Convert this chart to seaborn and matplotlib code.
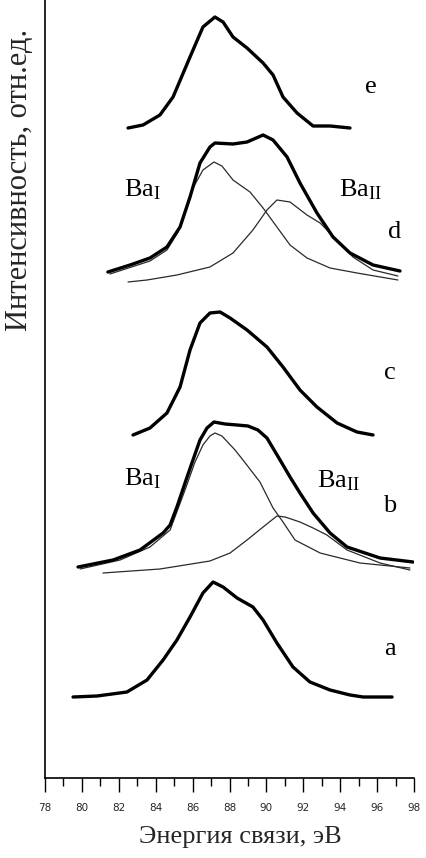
import matplotlib
matplotlib.use("Agg")
import matplotlib.pyplot as plt
import seaborn as sns

# ---- data (binding energy, eV ; intensity, arb. units) ----
e_x = [82.50, 83.31, 84.23, 84.94, 85.86, 86.56, 87.21, 87.65, 88.19, 88.95, 89.82, 90.36, 90.90, 91.66, 92.53, 93.45, 94.53]
e_y = [65.0, 65.3, 66.3, 68.1, 72.1, 75.1, 76.1, 75.6, 74.1, 73.0, 71.5, 70.3, 68.1, 66.5, 65.2, 65.2, 65.0]

d_x = [81.41, 82.61, 83.69, 84.61, 85.32, 85.86, 86.40, 86.94, 87.21, 88.19, 88.95, 89.82, 90.36, 91.12, 91.82, 92.74, 93.61, 94.53, 95.78, 97.24]
d_y = [50.6, 51.3, 52.0, 53.1, 55.1, 58.1, 61.5, 63.1, 63.5, 63.4, 63.6, 64.3, 63.8, 62.1, 59.5, 56.5, 54.1, 52.5, 51.3, 50.7]
d1_x = [81.52, 83.69, 84.61, 85.21, 85.70, 86.02, 86.56, 87.16, 87.59, 88.19, 89.11, 89.82, 90.57, 91.28, 92.20, 93.45, 94.91, 97.13]
d1_y = [50.4, 51.7, 52.8, 54.6, 57.3, 59.0, 60.8, 61.6, 61.2, 59.8, 58.6, 57.0, 55.1, 53.3, 52.0, 51.0, 50.5, 49.8]
d2_x = [82.50, 83.53, 85.15, 86.94, 88.19, 89.27, 90.03, 90.57, 91.28, 92.20, 92.91, 93.83, 94.69, 95.78, 97.13]
d2_y = [49.6, 49.8, 50.3, 51.1, 52.5, 54.8, 56.8, 57.8, 57.6, 56.3, 55.5, 53.8, 52.1, 50.8, 50.2]

c_x = [82.77, 83.69, 84.61, 85.32, 85.86, 86.40, 86.94, 87.49, 88.03, 88.95, 90.03, 90.90, 91.82, 92.74, 93.83, 94.91, 95.78]
c_y = [34.3, 35.0, 36.5, 39.1, 42.8, 45.5, 46.5, 46.6, 46.0, 44.8, 43.1, 41.1, 38.8, 37.1, 35.5, 34.6, 34.3]

b_x = [79.79, 81.69, 83.15, 84.40, 84.78, 85.15, 85.70, 86.02, 86.40, 86.78, 87.16, 87.76, 88.41, 89.00, 89.54, 90.03, 90.74, 91.28, 91.82, 92.53, 93.45, 94.37, 96.16, 97.95]
b_y = [21.1, 21.8, 22.8, 24.5, 25.3, 27.1, 30.1, 31.8, 33.8, 35.0, 35.6, 35.4, 35.3, 35.2, 34.8, 34.0, 31.8, 30.1, 28.5, 26.5, 24.5, 23.1, 22.0, 21.6]
b1_x = [79.90, 82.07, 83.69, 84.78, 85.59, 86.13, 86.56, 86.94, 87.21, 87.59, 88.30, 88.73, 89.65, 90.36, 90.90, 91.55, 92.91, 95.07, 97.78]
b1_y = [20.9, 21.8, 23.1, 24.8, 28.8, 31.6, 33.3, 34.2, 34.5, 34.2, 32.8, 31.8, 29.6, 27.0, 25.6, 23.8, 22.5, 21.5, 21.0]
b2_x = [81.14, 84.23, 86.94, 88.03, 88.95, 89.82, 90.57, 91.01, 91.82, 92.53, 93.28, 94.37, 96.16, 97.78]
b2_y = [20.5, 20.9, 21.7, 22.5, 23.8, 25.1, 26.2, 26.1, 25.6, 25.0, 24.3, 22.8, 21.5, 20.8]

a_x = [79.52, 80.82, 82.44, 83.53, 84.40, 85.15, 85.86, 86.56, 87.11, 87.65, 88.41, 89.27, 89.82, 90.57, 91.44, 92.36, 93.45, 94.53, 95.24, 96.81]
a_y = [8.1, 8.2, 8.6, 9.8, 11.8, 13.8, 16.1, 18.5, 19.6, 19.1, 18.0, 17.1, 15.8, 13.5, 11.1, 9.6, 8.8, 8.3, 8.1, 8.1]

curve_labels = ["e", "d", "c", "b", "a"]
curve_label_x = [95.67, 96.97, 96.70, 96.70, 96.70]
curve_label_y = [68.5, 54.0, 39.9, 26.6, 12.3]
comp_labels = ["Ba$_\\mathrm{I}$", "Ba$_\\mathrm{II}$", "Ba$_\\mathrm{I}$", "Ba$_\\mathrm{II}$"]
comp_label_x = [83.26, 95.12, 83.26, 93.89]
comp_label_y = [58.2, 58.2, 29.3, 29.1]

x_ticks_major = list(range(78, 99, 2))
x_ticks_minor = list(range(79, 98, 2))
x_label = "Энергия связи, эВ"
y_label = "Интенсивность, отн.ед."

# ---- style ----
sns.set_theme(style="white")
plt.rcParams["font.family"] = ["Liberation Serif", "DejaVu Serif"]
plt.rcParams["mathtext.fontset"] = "custom"
plt.rcParams["mathtext.rm"] = "Liberation Serif"
plt.rcParams["mathtext.it"] = "Liberation Serif:italic"

fig = plt.figure(figsize=(4.26, 8.58), dpi=100)
ax = fig.add_axes([45 / 426, 80 / 858, (414 - 45) / 426, 778 / 858])

thick = [(e_x, e_y), (d_x, d_y), (c_x, c_y), (b_x, b_y), (a_x, a_y)]
thin = [(d1_x, d1_y), (d2_x, d2_y), (b1_x, b1_y), (b2_x, b2_y)]
for xs, ys in thin:
    sns.lineplot(x=xs, y=ys, ax=ax, color="#2a2a2a", linewidth=0.9, sort=False, estimator=None)
for xs, ys in thick:
    sns.lineplot(x=xs, y=ys, ax=ax, color="black", linewidth=2.4, sort=False, estimator=None)

for t, x, y in zip(curve_labels, curve_label_x, curve_label_y):
    ax.text(x, y, t, fontsize=19, ha="center", va="baseline", color="black")
for t, x, y in zip(comp_labels, comp_label_x, comp_label_y):
    ax.text(x, y, t, fontsize=19, ha="center", va="baseline", color="black")

ax.set_xlim(78, 98)
ax.set_ylim(0, 77.8)
ax.set_yticks([])
ax.set_xticks(x_ticks_major)
ax.set_xticks(x_ticks_minor, minor=True)
ax.set_xticklabels([str(t) for t in x_ticks_major], fontfamily="DejaVu Sans", fontsize=7.5)
ax.tick_params(axis="x", which="major", direction="out", length=10, width=1, color="black", pad=8, bottom=True)
ax.tick_params(axis="x", which="minor", direction="out", length=5.5, width=1, color="black", bottom=True)
for s in ["top", "right"]:
    ax.spines[s].set_visible(False)
for s in ["left", "bottom"]:
    ax.spines[s].set_color("black")
    ax.spines[s].set_linewidth(1.2)
ax.set_xlabel("")
ax.set_ylabel("")

fig.text(240 / 426, 1 - 837 / 858, x_label, fontsize=19, ha="center", va="center")
fig.text(20 / 426, 1 - 180 / 858, y_label, fontsize=22, ha="center", va="center", rotation=90)

fig.savefig("out.png", dpi=100, facecolor="white")
